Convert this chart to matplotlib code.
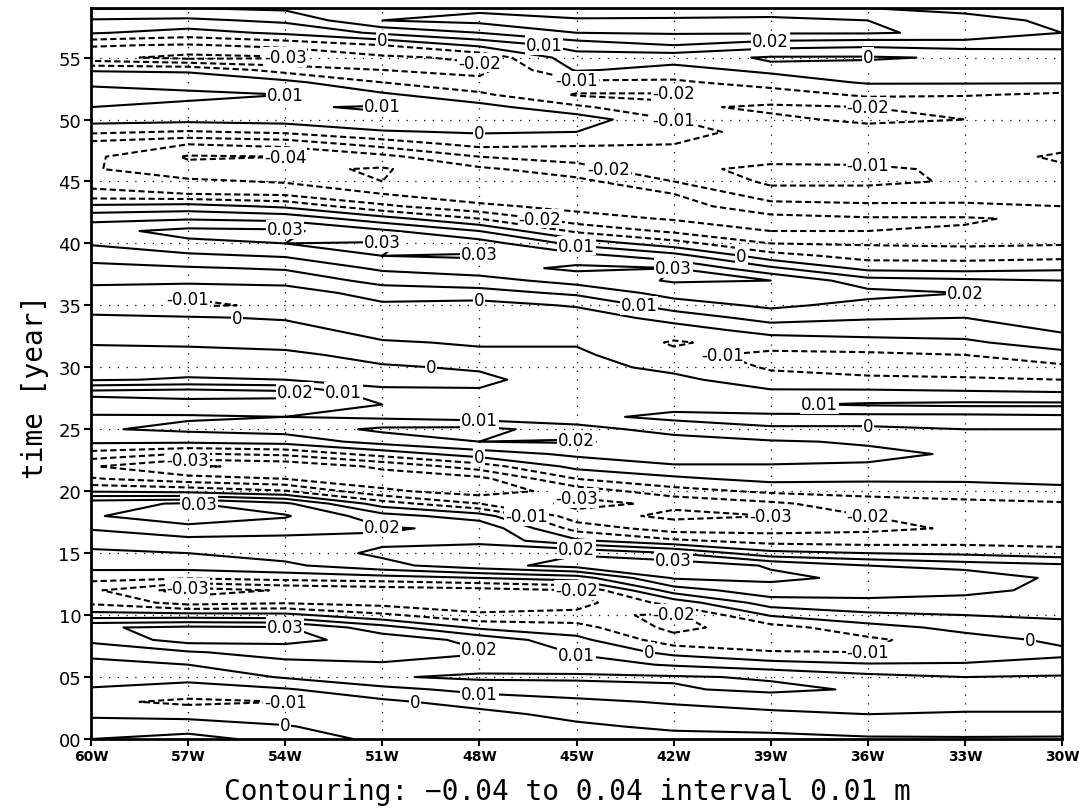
import numpy as np
import matplotlib
matplotlib.use("Agg")
import matplotlib.pyplot as plt

# ==============================================================================
# DATA: anomaly, in mm (rows = year 0..59), one list per lon
# ==============================================================================
years = list(range(60))
lons_w = [60, 57, 54, 51, 48, 45, 42, 39, 36, 33, 30]

anom_60w = [10, 5, -2, -8, -1, 5, 9, 11, 23, 29,
            4, -12, -18, -7, 4, 9, 12, 21, 29, 27,
            -1, -19, -29, -14, 2, 9, 9, 15, 23, -1,
            -5, -4, 1, 5, 2, -6, -5, 3, 7, 14,
            21, 27, 17, 2, -17, -24, -29, -28, -24, -8,
            4, 10, 12, 9, -1, -27, -19, 1, 9, 21]
anom_57w = [13, 6, -4, -12, -4, 3, 10, 19, 34, 32,
            4, -24, -35, -9, 5, 10, 17, 27, 36, 31,
            -3, -26, -41, -21, 2, 12, 9, 16, 25, 1,
            -4, -4, 2, 5, 1, -11, -9, 3, 9, 18,
            28, 33, 19, 4, -20, -28, -37, -41, -30, -11,
            3, 9, 11, 8, -2, -33, -21, -4, 8, 20]
anom_54w = [7, 1, -7, -10, -1, 11, 17, 24, 33, 31,
            3, -21, -29, -6, 8, 14, 17, 24, 31, 22,
            -9, -30, -38, -18, 4, 14, 10, 18, 22, 0,
            -3, -2, 3, 4, -1, -9, -6, 4, 11, 21,
            30, 32, 17, -2, -22, -31, -38, -40, -27, -8,
            4, 9, 10, 3, -14, -31, -17, 2, 12, 22]
anom_51w = [-3, -7, -6, -2, 7, 19, 19, 24, 26, 14,
            -8, -24, -26, -4, 17, 22, 18, 21, 14, -5,
            -28, -36, -28, -6, 14, 22, 8, 10, 2, -3,
            -1, 3, 1, -4, -7, -2, 5, 13, 22, 30,
            31, 22, 4, -18, -30, -40, -41, -33, -16, -1,
            8, 11, 2, -10, -20, -22, -10, 12, 30, 26]
anom_48w = [-5, -6, -3, 4, 13, 22, 15, 21, 17, -2,
            -18, -27, -24, 0, 26, 28, 17, 18, 5, -20,
            -35, -33, -15, 5, 20, 23, 5, 5, 1, -2,
            1, 2, -1, -6, -9, -4, 6, 16, 26, 31,
            25, 10, -10, -28, -36, -38, -32, -20, -7, 1,
            7, 4, -8, -17, -23, -18, 2, 20, 33, 28]
anom_45w = [-5, -2, 3, 8, 15, 22, 14, 9, 3, -6,
            -17, -24, -20, 5, 34, 29, 2, -14, -26, -33,
            -26, -10, 3, 12, 21, 15, 2, 1, 3, 5,
            4, 2, -1, -6, -6, 1, 12, 24, 32, 24,
            7, -12, -26, -33, -36, -33, -24, -16, -9, 0,
            6, -8, -21, -12, 1, 6, 14, 30, 31, 25]
anom_42w = [-4, 2, 6, 11, 19, 21, 9, -3, -16, -23,
            -22, -6, 15, 31, 37, 20, -8, -25, -32, -28,
            -14, -2, 8, 20, 16, 5, -2, 3, 6, 3,
            -3, -8, -11, -5, 4, 15, 24, 31, 30, 14,
            -6, -22, -31, -34, -30, -20, -12, -11, -10, -4,
            -10, -19, -21, -12, -3, 4, 20, 31, 32, 22]
anom_39w = [-2, 2, 8, 14, 22, 19, 4, -9, -19, -14,
            1, 15, 26, 32, 29, 3, -14, -24, -30, -22,
            -8, 3, 9, 15, 11, 1, -3, 9, 2, -7,
            -11, -12, -6, 4, 14, 22, 29, 30, 12, -6,
            -20, -30, -33, -24, -14, -8, -8, -13, -14, -16,
            -19, -21, -16, -5, 2, -1, 14, 31, 33, 22]
anom_36w = [-1, 4, 10, 15, 19, 13, 1, -10, -12, -4,
            8, 17, 25, 28, 20, 0, -15, -22, -20, -14,
            -7, 2, 9, 12, 9, 1, -3, 11, 2, -8,
            -14, -12, -3, 4, 11, 17, 23, 14, -3, -14,
            -21, -30, -31, -22, -14, -8, -9, -12, -15, -18,
            -21, -20, -8, 1, 4, -1, 12, 31, 30, 20]
anom_33w = [-1, 5, 9, 14, 17, 10, 1, -6, -4, 3,
            10, 17, 22, 29, 15, -2, -14, -19, -17, -12,
            -6, 2, 8, 9, 6, 0, -3, 12, 1, -9,
            -14, -10, -2, 5, 10, 15, 20, 12, -4, -14,
            -22, -29, -31, -22, -15, -11, -11, -13, -16, -18,
            -20, -19, -9, 1, 4, 1, 14, 28, 25, 16]
anom_30w = [-1, 4, 9, 14, 14, 11, 3, -2, 2, 8,
            11, 15, 18, 17, 12, -6, -14, -18, -15, -11,
            -3, 3, 7, 6, 3, 0, -2, 12, 0, -10,
            -12, -4, 6, 11, 14, 15, 13, 10, -2, -13,
            -21, -27, -28, -20, -13, -12, -11, -9, -12, -16,
            -18, -18, -12, 1, 6, 8, 11, 20, 17, 10]

levels = [-0.04, -0.03, -0.02, -0.01, 0.0, 0.01, 0.02, 0.03, 0.04]
year_ticks = [0, 5, 10, 15, 20, 25, 30, 35, 40, 45, 50, 55]
caption = "Contouring: \u22120.04 to 0.04 interval 0.01 m"


def fmt_label(v):
    """GrADS style contour label."""
    if abs(v) < 1e-9:
        return "0"
    return f"{v:.2f}"


def plot_hovmoller(ax):
    """Longitude-time contour plot, negatives dashed."""
    cols = [anom_60w, anom_57w, anom_54w, anom_51w, anom_48w, anom_45w,
            anom_42w, anom_39w, anom_36w, anom_33w, anom_30w]
    Z = np.column_stack(cols) / 1000.0  # mm -> m

    styles = [(0, (3, 1.6)) if v < 0 else "solid" for v in levels]
    cs = ax.contour(lons_w, years, Z, levels=levels, colors="black",
                    linewidths=1.5, linestyles=styles)
    # upright labels on a white patch, the way GrADS blanks the line
    labels = ax.clabel(cs, fmt=fmt_label, fontsize=12, inline=False)
    for t in labels:
        t.set_rotation(0)
        t.set_bbox(dict(facecolor="white", edgecolor="none", pad=0.6))
        t.set_zorder(5)

    ax.set_xlim(60, 30)
    ax.set_ylim(0, 59)
    ax.set_xticks(lons_w)
    ax.set_xticklabels([f"{l}W" for l in lons_w], fontsize=10, fontweight="bold")
    ax.set_yticks(year_ticks)
    ax.set_yticklabels([f"{y:02d}" for y in year_ticks], fontsize=13)
    ax.grid(True, color="black", linestyle=(0, (1, 6)), linewidth=0.9)
    ax.tick_params(direction="out", length=5, width=1.5, pad=2)
    for s in ax.spines.values():
        s.set_linewidth(2)
    return labels


def drop_crowded_labels(fig, ax, labels):
    """Remove labels that collide with another label or leave the frame."""
    fig.canvas.draw()
    r = fig.canvas.get_renderer()
    frame = ax.get_window_extent(r)
    kept = []
    for t in labels:
        bb = t.get_window_extent(r).expanded(1.1, 1.2)
        inside = (bb.x0 > frame.x0 and bb.x1 < frame.x1 and
                  bb.y0 > frame.y0 and bb.y1 < frame.y1)
        if not inside or any(bb.overlaps(k) for k in kept):
            t.remove()
        else:
            kept.append(bb)


def main():
    fig = plt.figure(figsize=(10.8, 8.12), dpi=100)
    ax = fig.add_axes([91 / 1080, 72 / 812, 971 / 1080, 731 / 812])
    labels = plot_hovmoller(ax)

    fig.text(35 / 1080, 0.523, "time [year]", rotation=90, ha="center",
             va="center", fontsize=20, family="DejaVu Sans Mono")
    fig.text(0.525, 0.025, caption, ha="center", va="center", fontsize=20,
             family="DejaVu Sans Mono")

    drop_crowded_labels(fig, ax, labels)
    fig.savefig("out.png", dpi=100)


if __name__ == "__main__":
    main()
